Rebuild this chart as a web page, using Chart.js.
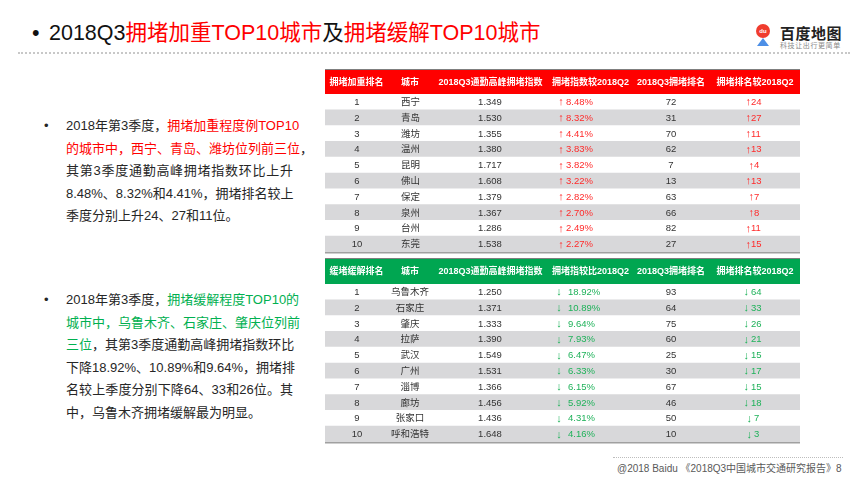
<!DOCTYPE html>
<html>
<head>
<meta charset="utf-8">
<script src="https://cdn.jsdelivr.net/npm/chart.js@4.4.1/dist/chart.umd.min.js"></script>
<style>
  body { margin: 0; width: 864px; height: 486px; background: #fff; position: relative; overflow: hidden;
         font-family: "Liberation Sans", "Noto Sans CJK SC", sans-serif; color: #262626; }
  .abs { position: absolute; }
  .title { left: 49px; top: 20px; font-size: 21.5px; line-height: 26px; color: #111; white-space: nowrap; }
  .title-bullet { left: 32px; top: 20px; font-size: 21.5px; line-height: 26px; color: #111; }
  .red { color: #ff0000; }
  .green { color: #00b050; }
  .rule { left: 18px; top: 52px; width: 832px; border-top: 2px dotted #c8c8c8; }
  .logo-pin { left: 756px; top: 24px; width: 14px; height: 14px; border-radius: 50%; background: #f03c2e;
              color: #fff; font-size: 6px; line-height: 14px; text-align: center; font-weight: bold; }
  .logo-base { left: 757px; top: 38px; width: 0; height: 0; border-left: 6px solid transparent;
               border-right: 6px solid transparent; border-bottom: 8px solid #4d8fe6; }
  .logo-name { left: 780px; top: 24px; font-size: 15px; line-height: 18px; font-weight: bold; color: #222;
               letter-spacing: 0.5px; font-family: "Noto Sans CJK SC", sans-serif; }
  .logo-sub { left: 780px; top: 41px; font-size: 7px; line-height: 8px; color: #8a8a8a; letter-spacing: 0.6px;
              font-family: "Noto Sans CJK SC", sans-serif; }
  .para { left: 66px; width: 227px; font-size: 13px; line-height: 22.5px; }
  .para div { text-align: justify; text-align-last: justify; white-space: nowrap; }
  .para div.last { text-align-last: left; }
  .dot { left: 44px; font-size: 13px; line-height: 22.5px; }
  .wrap { position: absolute; left: 325px; width: 475px; }
  .foot-rule { left: 613px; top: 457px; width: 230px; border-top: 1px dotted #bdbdbd; }
  .foot { left: 617px; top: 462px; font-size: 10px; line-height: 14px; color: #595959; white-space: nowrap; }
</style>
</head>
<body>

<div class="abs title-bullet">•</div>
<div class="abs title">2018Q3<span class="red">拥堵加重TOP10城市</span>及<span class="red">拥堵缓解TOP10城市</span></div>
<div class="abs rule"></div>

<div class="abs logo-pin">du</div>
<div class="abs logo-base"></div>
<div class="abs logo-name">百度地图</div>
<div class="abs logo-sub">科技让出行更简单</div>

<div class="abs dot" style="top:115px">•</div>
<div class="abs para" style="top:115px">
  <div>2018年第3季度，<span class="red">拥堵加重程度例TOP10</span></div>
  <div><span class="red">的城市中，西宁、青岛、潍坊位列前三位</span>，</div>
  <div>其第3季度通勤高峰拥堵指数环比上升</div>
  <div>8.48%、8.32%和4.41%，拥堵排名较上</div>
  <div class="last">季度分别上升24、27和11位。</div>
</div>

<div class="abs dot" style="top:289px">•</div>
<div class="abs para" style="top:289px">
  <div>2018年第3季度，<span class="green">拥堵缓解程度TOP10的</span></div>
  <div><span class="green">城市中，乌鲁木齐、石家庄、肇庆位列前</span></div>
  <div><span class="green">三位</span>，其第3季度通勤高峰拥堵指数环比</div>
  <div>下降18.92%、10.89%和9.64%，拥堵排</div>
  <div>名较上季度分别下降64、33和26位。其</div>
  <div class="last">中，乌鲁木齐拥堵缓解最为明显。</div>
</div>

<div class="wrap" style="top:69px;height:185px"><canvas id="heavyTable"></canvas></div>
<div class="wrap" style="top:258px;height:186px"><canvas id="easeTable"></canvas></div>

<div class="abs foot-rule"></div>
<div class="abs foot">@2018 Baidu 《2018Q3中国城市交通研究报告》8</div>

<script>
// 拥堵加重 TOP10
const heavyHeaders = ['拥堵加重排名', '城市', '2018Q3通勤高峰拥堵指数', '拥堵指数较2018Q2', '2018Q3拥堵排名', '拥堵排名较2018Q2'];
const heavyRank = [1, 2, 3, 4, 5, 6, 7, 8, 9, 10];
const heavyCity = ['西宁', '青岛', '潍坊', '温州', '昆明', '佛山', '保定', '泉州', '台州', '东莞'];
const heavyIndex = [1.349, 1.530, 1.355, 1.380, 1.717, 1.608, 1.379, 1.367, 1.286, 1.538];
const heavyChange = [8.48, 8.32, 4.41, 3.83, 3.82, 3.22, 2.82, 2.70, 2.49, 2.27];
const heavyRankQ3 = [72, 31, 70, 62, 7, 13, 63, 66, 82, 27];
const heavyRankUp = [24, 27, 11, 13, 4, 13, 7, 8, 11, 15];

// 拥堵缓解 TOP10
const easeHeaders = ['缓堵缓解排名', '城市', '2018Q3通勤高峰拥堵指数', '拥堵指较比2018Q2', '2018Q3拥堵排名', '拥堵排名较2018Q2'];
const easeRank = [1, 2, 3, 4, 5, 6, 7, 8, 9, 10];
const easeCity = ['乌鲁木齐', '石家庄', '肇庆', '拉萨', '武汉', '广州', '淄博', '廊坊', '张家口', '呼和浩特'];
const easeIndex = [1.250, 1.371, 1.333, 1.390, 1.549, 1.531, 1.366, 1.456, 1.436, 1.648];
const easeChange = [18.92, 10.89, 9.64, 7.93, 6.47, 6.33, 6.15, 5.92, 4.31, 4.16];
const easeRankQ3 = [93, 64, 75, 60, 25, 30, 67, 46, 50, 10];
const easeRankDown = [64, 33, 26, 21, 15, 17, 15, 18, 7, 3];

const FONT = '"Liberation Sans", "Noto Sans CJK SC", sans-serif';
const TABLE_W = 475;
// column anchors in table units (x scale runs 0..TABLE_W)
const headerX = [31.5, 85, 165.5, 265.5, 346, 430];

function makeTable(id, cfg) {
    const rowCount = cfg.rank.length;

    const tableText = {
        id: 'tableText',
        beforeDatasetsDraw(chart) {
            const { ctx, chartArea } = chart;
            const x = chart.scales.x;
            ctx.save();
            ctx.fillStyle = cfg.headerColor;
            ctx.fillRect(chartArea.left, 0, chartArea.width, chartArea.top);
            ctx.fillStyle = '#7f7f7f';
            ctx.fillRect(chartArea.left, 0, chartArea.width, 1);
            ctx.fillStyle = '#fff';
            ctx.font = 'bold 9px ' + FONT;
            ctx.textAlign = 'center';
            ctx.textBaseline = 'middle';
            cfg.headers.forEach((h, i) => {
                ctx.fillText(h, x.getPixelForValue(headerX[i]), chartArea.top / 2 + 1);
            });
            ctx.restore();
        },
        afterDatasetsDraw(chart) {
            const { ctx, chartArea } = chart;
            const x = chart.scales.x, y = chart.scales.y;
            ctx.save();
            ctx.textBaseline = 'middle';
            for (let i = 0; i < rowCount; i++) {
                const py = y.getPixelForValue(i) + 0.5;
                ctx.font = '9.5px ' + FONT;
                ctx.fillStyle = '#333';
                ctx.textAlign = 'center';
                ctx.fillText(cfg.rank[i], x.getPixelForValue(32), py);
                ctx.textAlign = cfg.cityAlign;
                ctx.fillText(cfg.city[i], x.getPixelForValue(cfg.cityX), py);
                ctx.textAlign = 'center';
                ctx.fillText(cfg.index[i].toFixed(3), x.getPixelForValue(165), py);
                ctx.fillText(cfg.rankQ3[i], x.getPixelForValue(346), py);

                ctx.fillStyle = cfg.accent;
                ctx.textAlign = 'left';
                ctx.fillText(cfg.change[i].toFixed(2) + '%', x.getPixelForValue(cfg.changeX), py);
                ctx.fillText(String(cfg.rankMove[i]), x.getPixelForValue(cfg.moveX[i]), py);

                ctx.font = '11px ' + FONT;
                ctx.textAlign = 'center';
                ctx.fillText(cfg.arrow, x.getPixelForValue(cfg.arrowX), py);
                ctx.textAlign = 'right';
                ctx.fillText(cfg.arrow, x.getPixelForValue(cfg.moveX[i] - cfg.gap), py);
            }
            ctx.fillStyle = '#a0a0a0';
            ctx.fillRect(chartArea.left, chartArea.bottom, chartArea.width, 1.5);
            ctx.restore();
        }
    };

    return new Chart(document.getElementById(id), {
        type: 'bar',
        data: {
            labels: cfg.rank.map(String),
            datasets: [{
                data: cfg.rank.map(() => TABLE_W),
                backgroundColor: cfg.rank.map((r, i) => i % 2 === 0 ? '#ffffff' : '#d8d8da'),
                borderWidth: 0,
                barPercentage: 1,
                categoryPercentage: 1
            }]
        },
        options: {
            indexAxis: 'y',
            responsive: true,
            maintainAspectRatio: false,
            devicePixelRatio: 1,
            animation: false,
            layout: { padding: { top: cfg.headerH, bottom: 2, left: 0, right: 0 } },
            plugins: { legend: { display: false }, tooltip: { enabled: false } },
            scales: {
                x: { type: 'linear', min: 0, max: TABLE_W, display: false },
                y: { type: 'category', display: false }
            }
        },
        plugins: [tableText]
    });
}

// number start of the rank-move column: two-digit numbers sit a bit left of one-digit ones
const moveStart = arr => arr.map(v => v >= 10 ? 426 : 429);

makeTable('heavyTable', {
    headers: heavyHeaders, rank: heavyRank, city: heavyCity, index: heavyIndex,
    change: heavyChange, rankQ3: heavyRankQ3, rankMove: heavyRankUp, moveX: moveStart(heavyRankUp),
    headerColor: '#ff0000', accent: '#ff2a2a', arrow: '↑', gap: 0,
    headerH: 25, cityAlign: 'left', cityX: 76, arrowX: 236, changeX: 241
});

makeTable('easeTable', {
    headers: easeHeaders, rank: easeRank, city: easeCity, index: easeIndex,
    change: easeChange, rankQ3: easeRankQ3, rankMove: easeRankDown, moveX: moveStart(easeRankDown),
    headerColor: '#00a651', accent: '#1fb25a', arrow: '↓', gap: 2,
    headerH: 26, cityAlign: 'center', cityX: 85, arrowX: 234, changeX: 243
});
</script>
</body>
</html>
